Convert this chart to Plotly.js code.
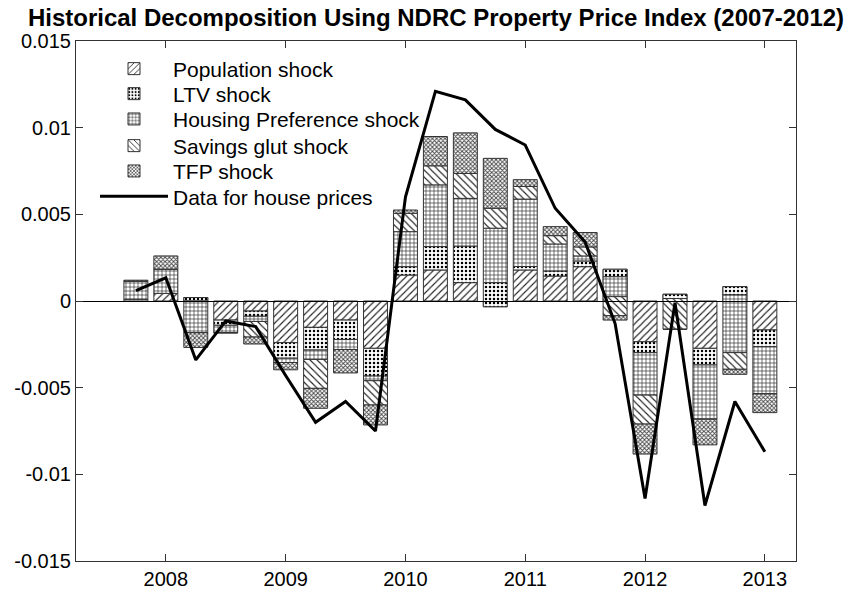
<!DOCTYPE html>
<html><head><meta charset="utf-8">
<script src="https://cdn.plot.ly/plotly-3.0.1.min.js"></script>
<style>html,body{margin:0;padding:0;background:#fff}#chart{width:862px;height:594px}</style>
</head><body><div id="chart"></div>
<script>
// Quarterly dates (decimal years)
const quarters = [2007.75, 2008.0, 2008.25, 2008.5, 2008.75, 2009.0, 2009.25, 2009.5, 2009.75,
  2010.0, 2010.25, 2010.5, 2010.75, 2011.0, 2011.25, 2011.5, 2011.75,
  2012.0, 2012.25, 2012.5, 2012.75, 2013.0];

// Shock contributions (stacked cumulatively, in this order)
const population  = [0, 0.00044, 0.0002, -0.0011, -0.00058, -0.0024, -0.00152, -0.0011, -0.00273,
  0.0015, 0.00179, 0.00106, -0.00033, 0.00179, 0.00144, 0.00198, 0.00183,
  -0.00235, 0.00039, -0.00273, 0.00083, -0.00167];
const ltv         = [0.0001, 0, -0.0002, -0.0003, -0.0003, -0.0009, -0.00131, -0.00112, -0.0016,
  0.00048, 0.00135, 0.00211, 0.00139, 0.0002, 0.00029, 0.00033, -0.00043,
  -0.00063, -0.00025, -0.00096, -0.00048, -0.00096];
const housingPref = [0.00105, 0.0014, -0.00183, -0.00043, -0.0003, -0.00025, -0.00054, -0.00058, -0.00027,
  0.00202, 0.00356, 0.00275, 0.00314, 0.00389, 0.00156, 0.00029, -0.00115,
  -0.00245, 0, -0.00313, -0.00333, -0.00273];
const savingsGlut = [0, 0, 0, 0, -0.0009, 0, -0.00167, 0, -0.0014,
  0.00106, 0.0011, 0.00144, 0.00115, 0.00073, 0.00048, 0.00052, -0.0011,
  -0.00167, -0.00177, 0, -0.00096, 0];
const tfp         = [0.00005, 0.00076, -0.00085, 0, -0.0004, -0.00042, -0.00115, -0.00135, -0.00115,
  0.00019, 0.00169, 0.00234, 0.00288, 0.00039, 0.00052, 0.00083, -0.00025,
  -0.00173, 0, -0.00148, -0.00029, -0.00108];

// Data for house prices
const housePrices = [0.0006, 0.00134, -0.0034, -0.00115, -0.00148, -0.0043, -0.0070, -0.0058, -0.0075,
  0.0060, 0.0121, 0.0116, 0.0099, 0.0090, 0.00535, 0.0034, -0.0013,
  -0.0114, -0.0001, -0.0118, -0.0058, -0.0087];

const shockNames = ['Population shock', 'LTV shock', 'Housing Preference shock', 'Savings glut shock', 'TFP shock'];
const lineName = 'Data for house prices';
const titleText = 'Historical Decomposition Using NDRC Property Price Index (2007-2012)';

const yTickVals = [-0.015, -0.01, -0.005, 0, 0.005, 0.01, 0.015];
const yTickText = ['-0.015', '-0.01', '-0.005', '0', '0.005', '0.01', '0.015'];
const xTickVals = [2008, 2009, 2010, 2011, 2012, 2013];
const xTickText = ['2008', '2009', '2010', '2011', '2012', '2013'];

const patternStyles = [
  {shape: '/',  fgcolor: '#222', bgcolor: 'white', size: 5, solidity: 0.22},
  {shape: '.',  fgcolor: '#000', bgcolor: 'white', size: 4, solidity: 0.3},
  {shape: '+',  fgcolor: '#000', bgcolor: 'white', size: 4, solidity: 0.25},
  {shape: '\\', fgcolor: '#222', bgcolor: 'white', size: 5, solidity: 0.22},
  {shape: 'x',  fgcolor: '#444', bgcolor: 'white', size: 3, solidity: 0.5}
];

const legendIds = ['legend', 'legend2', 'legend3', 'legend4', 'legend5', 'legend6'];

const shocks = [population, ltv, housingPref, savingsGlut, tfp];
let cum = quarters.map(() => 0);
const traces = shocks.map((vals, i) => {
  const base = cum.slice();
  cum = cum.map((c, j) => c + vals[j]);
  return {
    type: 'bar', x: quarters, y: vals, base: base, width: 0.2,
    name: shockNames[i], hoverinfo: 'skip', legend: legendIds[i],
    marker: {color: 'white', line: {color: '#333', width: 1}, pattern: patternStyles[i]}
  };
});
traces.push({
  type: 'scatter', mode: 'lines', x: quarters, y: housePrices, name: lineName,
  line: {color: '#000', width: 3}, hoverinfo: 'skip', legend: legendIds[5]
});

const font = 'Liberation Sans, Arial, Helvetica, sans-serif';
const layout = {
  width: 862, height: 594,
  margin: {l: 76, r: 66, t: 41, b: 33},
  paper_bgcolor: 'white', plot_bgcolor: 'white',
  barmode: 'overlay',
  showlegend: true,
  title: {text: '<b>' + titleText + '</b>', font: {family: font, size: 24, color: '#000'},
          xref: 'paper', x: 0.5, xanchor: 'center', y: 0.971, yanchor: 'middle'},
  font: {family: font, color: '#000'},
  xaxis: {range: [2007.25, 2013.26], tickvals: xTickVals, ticktext: xTickText,
          ticks: 'inside', ticklen: 7, tickcolor: '#333', showgrid: false, zeroline: false,
          showline: true, linecolor: '#333', linewidth: 1, mirror: 'ticks',
          tickfont: {size: 20, family: font}},
  yaxis: {range: [-0.015, 0.015], tickvals: yTickVals, ticktext: yTickText,
          ticks: 'inside', ticklen: 7, tickcolor: '#333', showgrid: false,
          zeroline: true, zerolinecolor: '#000', zerolinewidth: 1, zerolinelayer: 'above traces',
          showline: true, linecolor: '#333', linewidth: 1, mirror: 'ticks',
          tickfont: {size: 20, family: font}}
};

// one single-entry legend per row, to reproduce the row spacing of the original
const legendRowY = [0.9462, 0.8981, 0.8494, 0.7981, 0.7494, 0.7006];
legendIds.forEach((id, k) => {
  layout[id] = {x: 0.0264, y: legendRowY[k], xanchor: 'left', yanchor: 'middle',
    bgcolor: 'rgba(0,0,0,0)', borderwidth: 0,
    font: {size: 21, family: font, color: '#000'}, itemwidth: 68};
});

Plotly.newPlot('chart', traces, layout, {displayModeBar: false, staticPlot: true});
</script>
</body></html>
